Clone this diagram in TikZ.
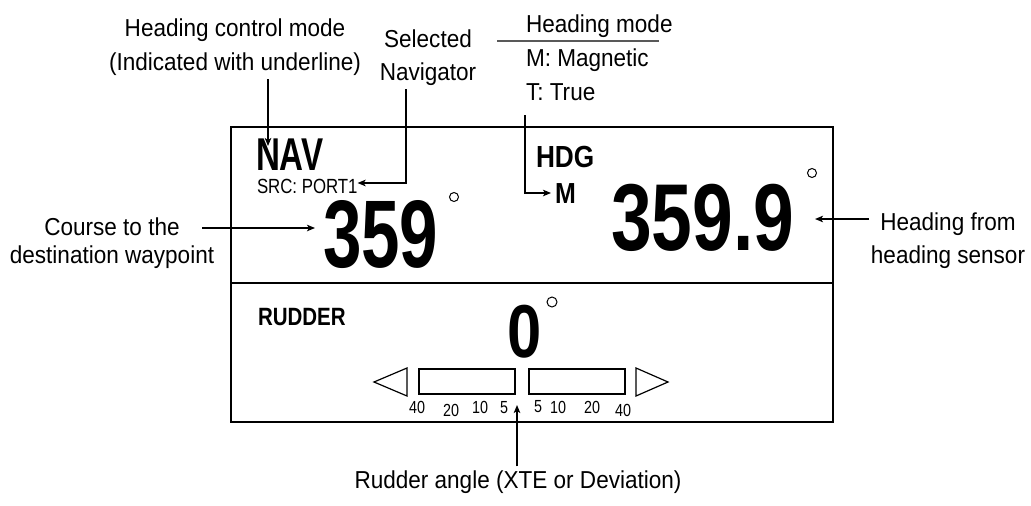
\documentclass[tikz,border=0pt]{standalone}
\usepackage{fontspec}
\setmainfont{Liberation Sans}
\newfontfamily\lblfont{Liberation Sans}[FakeStretch=0.92]
\newfontfamily\narrowfont{Liberation Sans}[FakeStretch=0.82]
\newfontfamily\hdgfont{Liberation Sans}[FakeStretch=0.86]
\newfontfamily\bigfont{Liberation Sans}[FakeStretch=0.72]
\newfontfamily\widebigfont{Liberation Sans}[FakeStretch=0.77]
\usetikzlibrary{arrows.meta}

\begin{document}
\begin{tikzpicture}[x=1pt, y=-1pt,
      lbl/.style={font=\lblfont\fontsize{24.5}{34}\selectfont, inner sep=0pt, outer sep=4pt, align=center},
      disp/.style={inner sep=0pt, outer sep=0pt, anchor=base west},
      degmark/.style={draw, line width=1pt},
      pointer/.style={-{Stealth[length=8pt,width=6.5pt,inset=2pt]}, line width=1.6pt},
      scalebar/.style={draw, line width=1.2pt},
      scalenum/.style={font=\narrowfont\fontsize{17.5}{19}\selectfont, inner sep=0pt, anchor=base}]

    \useasboundingbox (0,0) rectangle (1031,506);

    % display frame, split into heading part and rudder part
    \coordinate (panelNW) at (231,127);
    \coordinate (panelSE) at (833,422);
    \draw[line width=2pt] (panelNW) rectangle (panelSE);
    \draw[line width=2pt] (panelNW |- 0,283) -- (panelSE |- 0,283);

    % upper part: mode, source, course and heading
    \node[disp, font=\bigfont\bfseries\fontsize{46}{46}\selectfont] (nav) at (256,170) {NAV};
    \node[disp, font=\narrowfont\fontsize{20.5}{22}\selectfont] (src) at (257,193) {SRC: PORT1};
    \node[disp, text height=69pt, text depth=0pt,
          font=\bigfont\bfseries\fontsize{96}{96}\selectfont] (crsval) at (323,267) {359};
    \draw[degmark] (454,197) circle (4.5);
    \node[disp, font=\hdgfont\bfseries\fontsize{30.5}{32}\selectfont] (hdg) at (536,167) {HDG};
    \node[disp, font=\hdgfont\bfseries\fontsize{29}{30}\selectfont] (hmodeval) at (555,203) {M};
    \node[disp, text height=68pt, text depth=0pt,
          font=\widebigfont\bfseries\fontsize{95}{95}\selectfont] (hdgval) at (611,250) {359.9};
    \draw[degmark] (812,173) circle (4.5);

    % lower part: rudder angle bar
    \node[disp, font=\narrowfont\bfseries\fontsize{25}{26}\selectfont] (rudder) at (258,325) {RUDDER};
    \node[inner sep=0pt, anchor=base, text height=54pt, text depth=0pt,
          font=\narrowfont\bfseries\fontsize{75}{75}\selectfont] (rudval) at (525,357) {0};
    \draw[degmark] (552,302) circle (5);
    \draw[scalebar] (374,382) -- (407,368) -- (407,396) -- cycle;
    \draw[scalebar] (419,369) rectangle (515,394);
    \draw[scalebar] (529,369) rectangle (625,394);
    \draw[scalebar] (668,382) -- (636,368) -- (636,396) -- cycle;
    \foreach \val/\xx/\yy in {40/417/413, 20/451/416, 10/480/413, 5/504/413,
                              5/538/412, 10/558/413, 20/592/413, 40/623/416}
      \node[scalenum] (sn\xx) at (\xx,\yy) {\val};

    % callout labels (base = baseline of the last line)
    \node[lbl, anchor=base] (hcm) at (235,70) {Heading control mode\\(Indicated with underline)};
    \node[lbl, anchor=base, font=\lblfont\fontsize{24.5}{33}\selectfont] (selnav) at (428,80) {Selected\\Navigator};
    \node[lbl, anchor=base west] (hmode) at (522,32) {Heading mode};
    \node[lbl, anchor=base west, align=left] (hmodelist) at (522,100) {M: Magnetic\\T: True};
    \node[lbl, anchor=base, font=\lblfont\fontsize{24.5}{28}\selectfont] (crs) at (112,263) {Course to the\\destination waypoint};
    \node[lbl, anchor=base, font=\lblfont\fontsize{24.5}{33}\selectfont] (hsens) at (948,263) {Heading from\\heading sensor};
    \node[lbl, anchor=base] (rudang) at (518,488) {Rudder angle (XTE or Deviation)};

    % rule under the heading mode title
    \draw[line width=1.3pt, black!65] ([xshift=-25pt]hmode.south west) -- ([xshift=-18pt]hmode.south east);

    % pointers from labels to the display
    \coordinate (navtip) at (268,146);
    \draw[pointer] (hcm.south -| navtip) -- (navtip);
    \coordinate (srcbend) at (406,183);
    \draw[pointer] (selnav.south -| srcbend) -- (srcbend) -- (src.east |- srcbend);
    \coordinate (mfrom) at (525,115);
    \coordinate (mbend) at (525,193);
    \draw[pointer] (mfrom) -- (mbend) -- ([xshift=-4pt]hmodeval.west |- mbend);
    \coordinate (crsfrom) at (202,228);
    \draw[pointer] (crsfrom) -- ([xshift=-8pt]crsval.west |- crsfrom);
    \coordinate (hsfrom) at (869,219);
    \coordinate (hstip) at (815,219);
    \draw[pointer] (hsfrom) -- (hstip);
    \coordinate (rudtip) at (517,405);
    \draw[pointer] (rudang.north -| rudtip) -- (rudtip);
  \end{tikzpicture}
\end{document}
